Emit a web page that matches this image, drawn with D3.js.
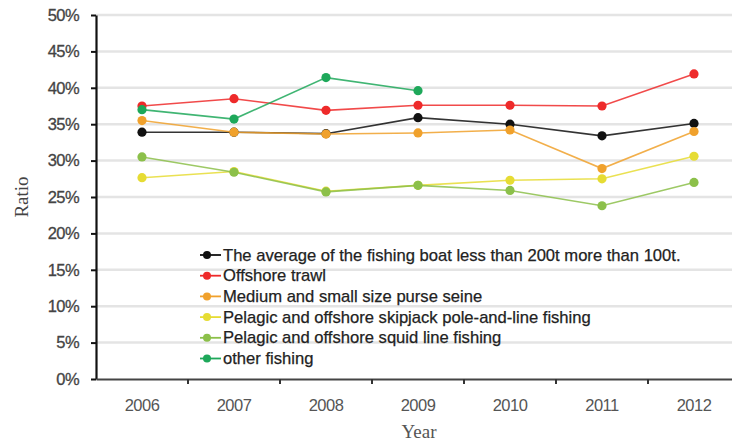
<!DOCTYPE html>
<html><head><meta charset="utf-8">
<script src="https://cdn.jsdelivr.net/npm/d3@7"></script>
<style>body{margin:0;background:#fff;}svg{display:block;}</style>
</head><body>
<script>
const years = ["2006","2007","2008","2009","2010","2011","2012"];
const seriesNames = [
  "The average of the fishing boat less than 200t more than 100t.",
  "Offshore trawl",
  "Medium and small size purse seine",
  "Pelagic and offshore skipjack pole-and-line fishing",
  "Pelagic and offshore squid line fishing",
  "other fishing"
];
const seriesColors = ["#111111","#ee2a2a","#f0a12c","#e6dc34","#8cc04a","#1ea85a"];
const averageVals = [33.9, 33.9, 33.7, 35.9, 35.0, 33.4, 35.1];
const trawlVals   = [37.5, 38.5, 36.9, 37.6, 37.6, 37.5, 41.9];
const purseVals   = [35.5, 33.9, 33.65, 33.8, 34.2, 28.9, 34.0];
const skipjackVals= [27.65, 28.5, 25.8, 26.6, 27.3, 27.5, 30.6];
const squidVals   = [30.5, 28.4, 25.7, 26.6, 25.9, 23.8, 27.0];
const otherVals   = [37.0, 35.7, 41.4, 39.6, null, null, null];
const seriesValues = [averageVals, trawlVals, purseVals, skipjackVals, squidVals, otherVals];
const yTicks = [0,5,10,15,20,25,30,35,40,45,50];

const W = 732, H = 445;
const svg = d3.select("body").append("svg").attr("width", W).attr("height", H);

const x0 = 96, band = 92;
const x = d3.scaleBand().domain(years).range([x0, x0 + band * years.length]).padding(0);
const y = d3.scaleLinear().domain([0, 50]).range([379, 15]);

// gridlines
svg.append("g").selectAll("line").data(yTicks.filter(d => d > 0)).join("line")
  .attr("x1", x0).attr("x2", W).attr("y1", d => y(d)).attr("y2", d => y(d))
  .attr("stroke", "#e4e4e4").attr("stroke-width", 2.5);

// y axis
const yAxis = svg.append("g").attr("transform", `translate(${x0},0)`)
  .call(d3.axisLeft(y).tickValues(yTicks).tickFormat(d => d + "%").tickSize(5).tickSizeOuter(0));
yAxis.select(".domain").attr("stroke", "#111").attr("stroke-width", 2.2);
yAxis.selectAll(".tick line").attr("stroke", "#111").attr("stroke-width", 2);
yAxis.selectAll("text").attr("font-family", "Liberation Sans, Arial, sans-serif")
  .attr("font-size", 16.5).attr("fill", "#444").attr("x", -17).attr("letter-spacing", -0.6)
  .attr("stroke", "#444").attr("stroke-width", 0.3);

// x axis
const xAxis = svg.append("g").attr("transform", `translate(0,${y(0)})`)
  .call(d3.axisBottom(x).tickSize(0).tickSizeOuter(0));
xAxis.select(".domain").attr("stroke", "#444").attr("stroke-width", 2);
xAxis.selectAll("text").attr("font-family", "Liberation Sans, Arial, sans-serif")
  .attr("font-size", 16.5).attr("fill", "#555").attr("dy", 0).attr("y", 32).attr("letter-spacing", -0.5);
// boundary ticks
svg.append("g").selectAll("line").data(years.slice(1)).join("line")
  .attr("x1", d => x(d)).attr("x2", d => x(d))
  .attr("y1", y(0)).attr("y2", y(0) + 5)
  .attr("stroke", "#333").attr("stroke-width", 2);

// axis titles
svg.append("text").attr("transform", "translate(28,197) rotate(-90)")
  .attr("text-anchor", "middle").attr("font-family", "Liberation Serif, Times New Roman, serif")
  .attr("font-size", 19).attr("fill", "#444").text("Ratio");
svg.append("text").attr("x", 419).attr("y", 438)
  .attr("text-anchor", "middle").attr("font-family", "Liberation Serif, Times New Roman, serif")
  .attr("font-size", 19).attr("fill", "#555").text("Year");

// series
const cx = d => x(d) + x.bandwidth() / 2;
const line = d3.line().defined(d => d.v != null).x(d => cx(d.year)).y(d => y(d.v));
seriesValues.forEach((vals, i) => {
  const pts = years.map((yr, j) => ({year: yr, v: vals[j]}));
  const g = svg.append("g");
  g.append("path").datum(pts).attr("d", line).attr("fill", "none")
    .attr("stroke", seriesColors[i]).attr("stroke-width", 1.6).attr("opacity", 0.85);
  g.selectAll("circle").data(pts.filter(d => d.v != null)).join("circle")
    .attr("cx", d => cx(d.year)).attr("cy", d => y(d.v)).attr("r", 4.6)
    .attr("fill", seriesColors[i]);
});

// legend
const leg = svg.append("g");
const legY0 = 255, legStep = 20.7;
seriesNames.forEach((name, i) => {
  const ly = legY0 + i * legStep;
  leg.append("line").attr("x1", 200).attr("x2", 221).attr("y1", ly).attr("y2", ly)
    .attr("stroke", seriesColors[i]).attr("stroke-width", 1.8);
  leg.append("circle").attr("cx", 207).attr("cy", ly).attr("r", 4).attr("fill", seriesColors[i]);
  leg.append("text").attr("x", 223).attr("y", ly + 5.5)
    .attr("font-family", "Liberation Sans, Arial, sans-serif").attr("font-size", 16.6)
    .attr("fill", "#222").attr("stroke", "#222").attr("stroke-width", 0.25).text(name);
});
</script>
</body></html>
